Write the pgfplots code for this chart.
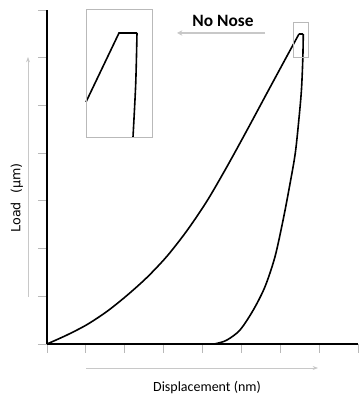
\documentclass[border=0pt]{standalone}
\usepackage{pgfplots}
\pgfplotsset{compat=1.18}
\usepackage{fontspec}
\setmainfont{Carlito}
\newfontfamily\dejavu{DejaVu Sans}
\usetikzlibrary{arrows.meta}
\definecolor{tickgray}{RGB}{185,185,185}
\definecolor{arrowgray}{RGB}{200,200,200}
\begin{document}
\begin{tikzpicture}
\useasboundingbox (0,0) rectangle (268.5pt,299.25pt);
\begin{axis}[
  x=0.75pt, y=0.75pt,
  at={(35.25pt,41.25pt)}, anchor=south west,
  xmin=0, xmax=311, ymin=0, ymax=334,
  axis x line*=bottom, axis y line*=left,
  axis line style={black, line width=1.1pt},
  xtick={0,38.875,77.75,116.625,155.5,194.375,233.25,272.125,311},
  ytick={0,47.714,95.429,143.143,190.857,238.571,286.286,334},
  xticklabels={}, yticklabels={},
  tick align=outside, major tick length=6.75pt,
  tick style={tickgray, line width=0.6pt},
  clip=false,
]
% loading curve
\addplot[black, line width=1.2pt, smooth] coordinates {
(0,0) (20,9) (40,19.4) (60,32.6) (80,48.6) (100,66.6) (120,87.8) (140,113.4) (160,143.0) (180,177.4) (200,213.8) (220,251.0) (240,288.0) (252,310)};
% hold
\addplot[black, line width=1.2pt] coordinates {(252,310) (256.3,310)};
% unloading curve
\addplot[black, line width=1.2pt, smooth] coordinates {
(256.3,310) (255.8,285) (254.5,255) (252.3,229) (248.3,191) (242.5,157.5) (236.3,125) (228,87.3) (218,57.3) (206.3,34) (193,14) (180,4) (170,0.6) (166,0)};
% inset
\addplot[black, line width=1.2pt] coordinates {(39,242) (72,311) (90,311)};
\addplot[black, line width=1.2pt, smooth] coordinates {(90,311) (88.7,260) (86,207)};
\draw[tickgray, line width=0.7pt] (axis cs:39,207) rectangle (axis cs:105,335);
\draw[tickgray, line width=0.7pt] (axis cs:246,287) rectangle (axis cs:261,322);
% arrow and label
\draw[arrowgray, line width=0.8pt, -{Stealth[length=4pt,width=4pt]}] (axis cs:218,311) -- (axis cs:130,311);
\node[font=\fontsize{13}{15}\selectfont\bfseries] at (axis cs:176,323) {No Nose};
% axis arrows
\draw[arrowgray, line width=0.6pt, -{Stealth[length=4pt,width=3pt]}] (axis cs:-19,47) -- (axis cs:-19,287);
\draw[arrowgray, line width=0.6pt, -{Stealth[length=4pt,width=3pt]}] (axis cs:39,-24) -- (axis cs:271,-24);
\node[font=\fontsize{10.5}{12}\selectfont] at (axis cs:160,-44) {Displacement (nm)};
\node[rotate=90, font=\dejavu\fontsize{9.5}{11}\selectfont] at (axis cs:-30,146) {Load\ \ (μm)};
\end{axis}
\end{tikzpicture}
\end{document}
